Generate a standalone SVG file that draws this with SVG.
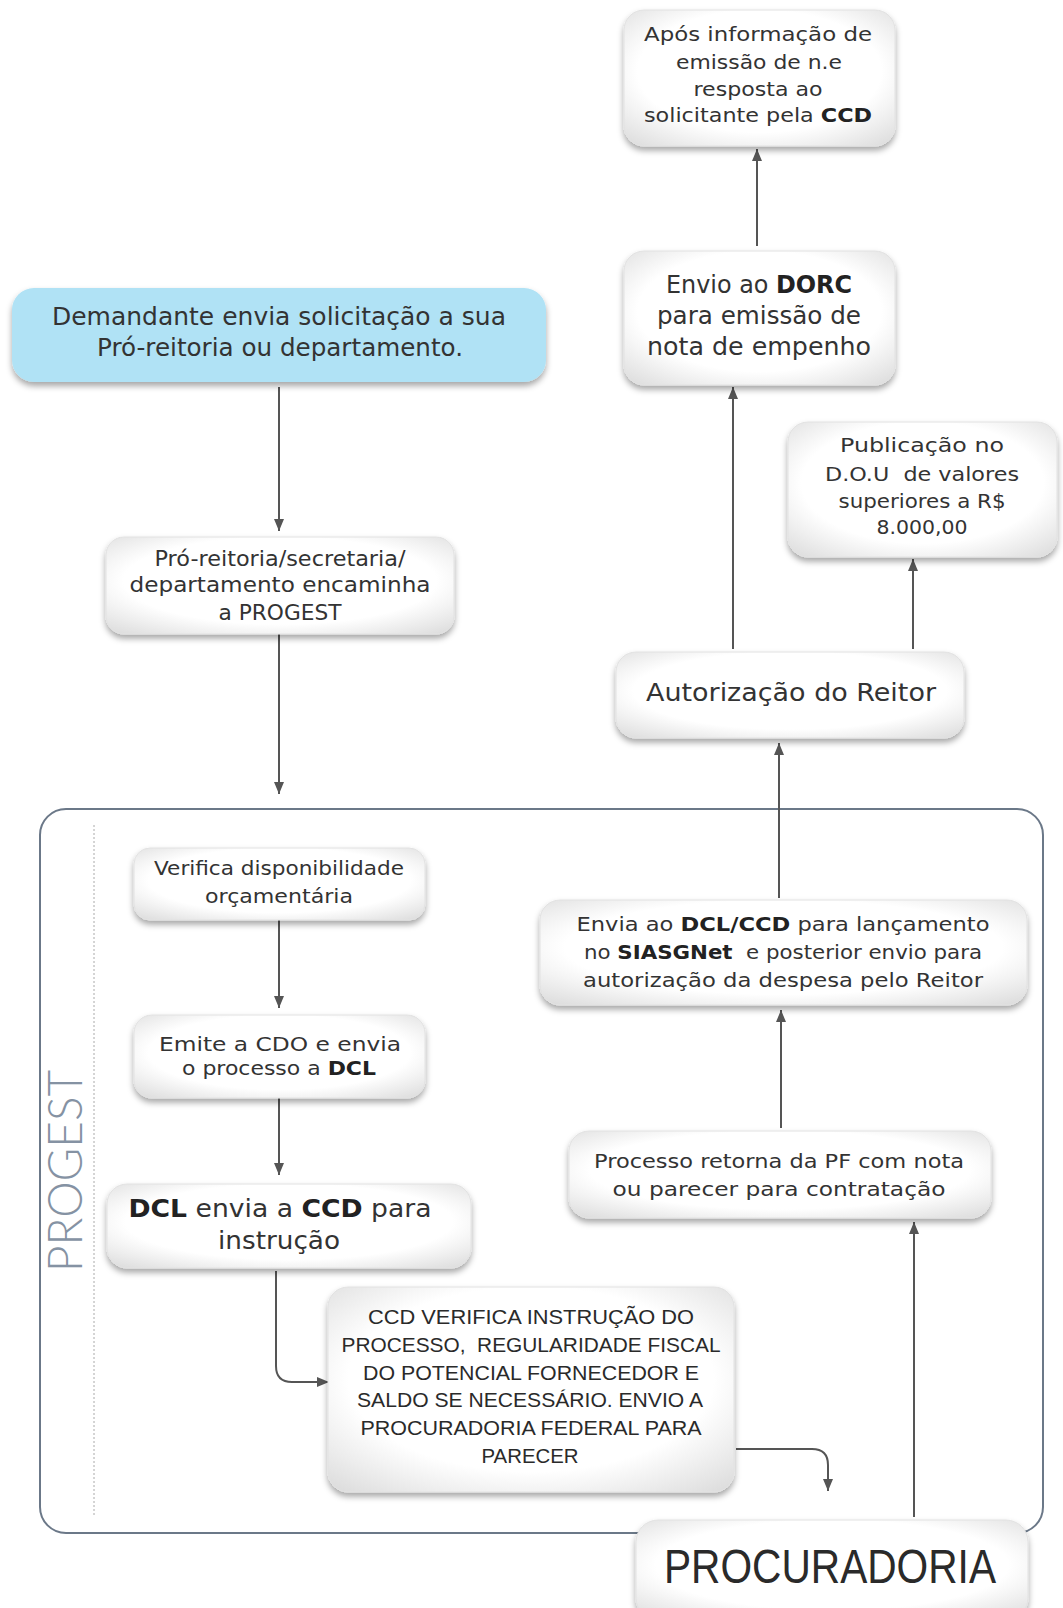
<svg xmlns="http://www.w3.org/2000/svg" width="1063" height="1608" viewBox="0 0 1063 1608">
<style>
.t{font-family:"DejaVu Sans",sans-serif;fill:#333;text-anchor:middle}
.c{font-family:"Liberation Sans",sans-serif;fill:#2a2a2a;text-anchor:middle}
.b{font-weight:bold;fill:#222}
.node{fill:url(#g);stroke:#e2e2e2;stroke-width:1;filter:url(#sh)}
.conn{fill:none;stroke:#555;stroke-width:2}
</style>
<defs>
<radialGradient id="g" cx="50%" cy="45%" r="75%">
<stop offset="0.6" stop-color="#ffffff"/>
<stop offset="1" stop-color="#d9d9d9"/>
</radialGradient>
<filter id="sh" x="-10%" y="-10%" width="120%" height="130%">
<feDropShadow dx="0" dy="4" stdDeviation="3" flood-color="#000" flood-opacity="0.35"/>
</filter>
<marker id="arr" viewBox="0 0 12 10" refX="12" refY="5" markerWidth="6" markerHeight="5" orient="auto">
<path d="M0,0 L12,5 L0,10 z" fill="#555"/>
</marker>
</defs>
<rect width="1063" height="1608" fill="#fff"/>

<g id="progest-lane">
<rect x="40" y="809" width="1003" height="724" rx="26" fill="none" stroke="#6b7888" stroke-width="2"/>
<line x1="94" y1="825" x2="94" y2="1515" stroke="#aaa" stroke-width="1" stroke-dasharray="2,2"/>
<text transform="translate(82,1171) rotate(-90)" font-family="Lato, sans-serif" font-weight="300" font-size="48" fill="#8592a3" text-anchor="middle" textLength="202" lengthAdjust="spacingAndGlyphs">PROGEST</text>
</g>

<g id="connectors">
<line class="conn" x1="279" y1="387" x2="279" y2="531" marker-end="url(#arr)"/>
<line class="conn" x1="279" y1="634" x2="279" y2="794" marker-end="url(#arr)"/>
<line class="conn" x1="279" y1="920" x2="279" y2="1008" marker-end="url(#arr)"/>
<line class="conn" x1="279" y1="1098" x2="279" y2="1175" marker-end="url(#arr)"/>
<path class="conn" d="M276,1271 V1366 Q276,1382 292,1382 H329" marker-end="url(#arr)"/>
<path class="conn" d="M736,1449 H812 Q828,1449 828,1465 V1491" marker-end="url(#arr)"/>
<line class="conn" x1="914" y1="1517" x2="914" y2="1222" marker-end="url(#arr)"/>
<line class="conn" x1="781" y1="1128" x2="781" y2="1010" marker-end="url(#arr)"/>
<line class="conn" x1="779" y1="898" x2="779" y2="743" marker-end="url(#arr)"/>
<line class="conn" x1="733" y1="649" x2="733" y2="387" marker-end="url(#arr)"/>
<line class="conn" x1="913" y1="649" x2="913" y2="559" marker-end="url(#arr)"/>
<line class="conn" x1="757" y1="246" x2="757" y2="149" marker-end="url(#arr)"/>
</g>

<g id="n-demandante">
<rect x="12" y="288" width="534" height="94" rx="22" fill="#b0e2f5" filter="url(#sh)"/>
<text class="t" x="279" y="325" font-size="25" textLength="454" lengthAdjust="spacingAndGlyphs">Demandante envia solicitação a sua</text>
<text class="t" x="280" y="356" font-size="25" textLength="366" lengthAdjust="spacingAndGlyphs">Pró-reitoria ou departamento.</text>
</g>

<g id="n-proreitoria">
<rect class="node" x="106" y="537" width="348" height="97" rx="18"/>
<text class="t" x="280" y="566" font-size="21" textLength="251" lengthAdjust="spacingAndGlyphs">Pró-reitoria/secretaria/</text>
<text class="t" x="280" y="592" font-size="21" textLength="301" lengthAdjust="spacingAndGlyphs">departamento encaminha</text>
<text class="t" x="280" y="620" font-size="21" textLength="123" lengthAdjust="spacingAndGlyphs">a PROGEST</text>
</g>

<g id="n-apos">
<rect class="node" x="624" y="10" width="271" height="136" rx="20"/>
<text class="t" x="758" y="41" font-size="20" textLength="228" lengthAdjust="spacingAndGlyphs">Após informação de</text>
<text class="t" x="759" y="69" font-size="20" textLength="166" lengthAdjust="spacingAndGlyphs">emissão de n.e</text>
<text class="t" x="758" y="96" font-size="20" textLength="129" lengthAdjust="spacingAndGlyphs">resposta ao</text>
<text class="t" x="758" y="122" font-size="20" textLength="228" lengthAdjust="spacingAndGlyphs">solicitante pela <tspan class="b">CCD</tspan></text>
</g>

<g id="n-dorc">
<rect class="node" x="624" y="251" width="271" height="134" rx="20"/>
<text class="t" x="759" y="293" font-size="24" textLength="186" lengthAdjust="spacingAndGlyphs">Envio ao <tspan class="b">DORC</tspan></text>
<text class="t" x="759" y="324" font-size="24" textLength="204" lengthAdjust="spacingAndGlyphs">para emissão de</text>
<text class="t" x="759" y="355" font-size="24" textLength="224" lengthAdjust="spacingAndGlyphs">nota de empenho</text>
</g>

<g id="n-publicacao">
<rect class="node" x="788" y="422" width="269" height="135" rx="20"/>
<text class="t" x="922" y="452" font-size="19" textLength="164" lengthAdjust="spacingAndGlyphs">Publicação no</text>
<text class="t" x="922" y="481" font-size="19" textLength="194" lengthAdjust="spacingAndGlyphs" xml:space="preserve">D.O.U  de valores</text>
<text class="t" x="922" y="508" font-size="19" textLength="167" lengthAdjust="spacingAndGlyphs">superiores a R$</text>
<text class="t" x="922" y="534" font-size="19" textLength="91" lengthAdjust="spacingAndGlyphs">8.000,00</text>
</g>

<g id="n-autorizacao">
<rect class="node" x="616" y="652" width="348" height="86" rx="20"/>
<text class="t" x="791" y="701" font-size="25" textLength="290" lengthAdjust="spacingAndGlyphs">Autorização do Reitor</text>
</g>

<g id="n-envia-dcl">
<rect class="node" x="540" y="900" width="487" height="105" rx="20"/>
<text class="t" x="783" y="931" font-size="19" textLength="413" lengthAdjust="spacingAndGlyphs">Envia ao <tspan class="b">DCL/CCD</tspan> para lançamento</text>
<text class="t" x="783" y="959" font-size="19" textLength="398" lengthAdjust="spacingAndGlyphs" xml:space="preserve">no <tspan class="b">SIASGNet</tspan>  e posterior envio para</text>
<text class="t" x="783" y="987" font-size="19" textLength="400" lengthAdjust="spacingAndGlyphs">autorização da despesa pelo Reitor</text>
</g>

<g id="n-processo-retorna">
<rect class="node" x="569" y="1131" width="422" height="87" rx="20"/>
<text class="t" x="779" y="1168" font-size="19" textLength="370" lengthAdjust="spacingAndGlyphs">Processo retorna da PF com nota</text>
<text class="t" x="779" y="1196" font-size="19" textLength="333" lengthAdjust="spacingAndGlyphs">ou parecer para contratação</text>
</g>

<g id="n-verifica">
<rect class="node" x="134" y="848" width="291" height="72" rx="16"/>
<text class="t" x="279" y="875" font-size="19" textLength="250" lengthAdjust="spacingAndGlyphs">Verifica disponibilidade</text>
<text class="t" x="279" y="903" font-size="19" textLength="148" lengthAdjust="spacingAndGlyphs">orçamentária</text>
</g>

<g id="n-emite">
<rect class="node" x="134" y="1015" width="291" height="83" rx="18"/>
<text class="t" x="280" y="1051" font-size="20" textLength="242" lengthAdjust="spacingAndGlyphs">Emite a CDO e envia</text>
<text class="t" x="279" y="1075" font-size="20" textLength="194" lengthAdjust="spacingAndGlyphs">o processo a <tspan class="b">DCL</tspan></text>
</g>

<g id="n-dcl-envia">
<rect class="node" x="107" y="1184" width="364" height="84" rx="20"/>
<text class="t" x="280" y="1217" font-size="24" textLength="303" lengthAdjust="spacingAndGlyphs"><tspan class="b">DCL</tspan> envia a <tspan class="b">CCD</tspan> para</text>
<text class="t" x="279" y="1249" font-size="24" textLength="122" lengthAdjust="spacingAndGlyphs">instrução</text>
</g>

<g id="n-ccd">
<rect class="node" x="328" y="1287" width="406" height="205" rx="20"/>
<text class="c" x="531" y="1324" font-size="21" textLength="326" lengthAdjust="spacingAndGlyphs">CCD VERIFICA INSTRUÇÃO DO</text>
<text class="c" x="531" y="1352" font-size="21" textLength="379" lengthAdjust="spacingAndGlyphs" xml:space="preserve">PROCESSO,  REGULARIDADE FISCAL</text>
<text class="c" x="531" y="1380" font-size="21" textLength="336" lengthAdjust="spacingAndGlyphs">DO POTENCIAL FORNECEDOR E</text>
<text class="c" x="530" y="1407" font-size="21" textLength="346" lengthAdjust="spacingAndGlyphs">SALDO SE NECESSÁRIO. ENVIO A</text>
<text class="c" x="531" y="1435" font-size="21" textLength="341" lengthAdjust="spacingAndGlyphs">PROCURADORIA FEDERAL PARA</text>
<text class="c" x="530" y="1463" font-size="21" textLength="97" lengthAdjust="spacingAndGlyphs">PARECER</text>
</g>

<g id="n-procuradoria">
<rect class="node" x="636" y="1520" width="392" height="100" rx="22"/>
<text class="c" x="830" y="1583" font-size="48" textLength="332" lengthAdjust="spacingAndGlyphs">PROCURADORIA</text>
</g>
</svg>
